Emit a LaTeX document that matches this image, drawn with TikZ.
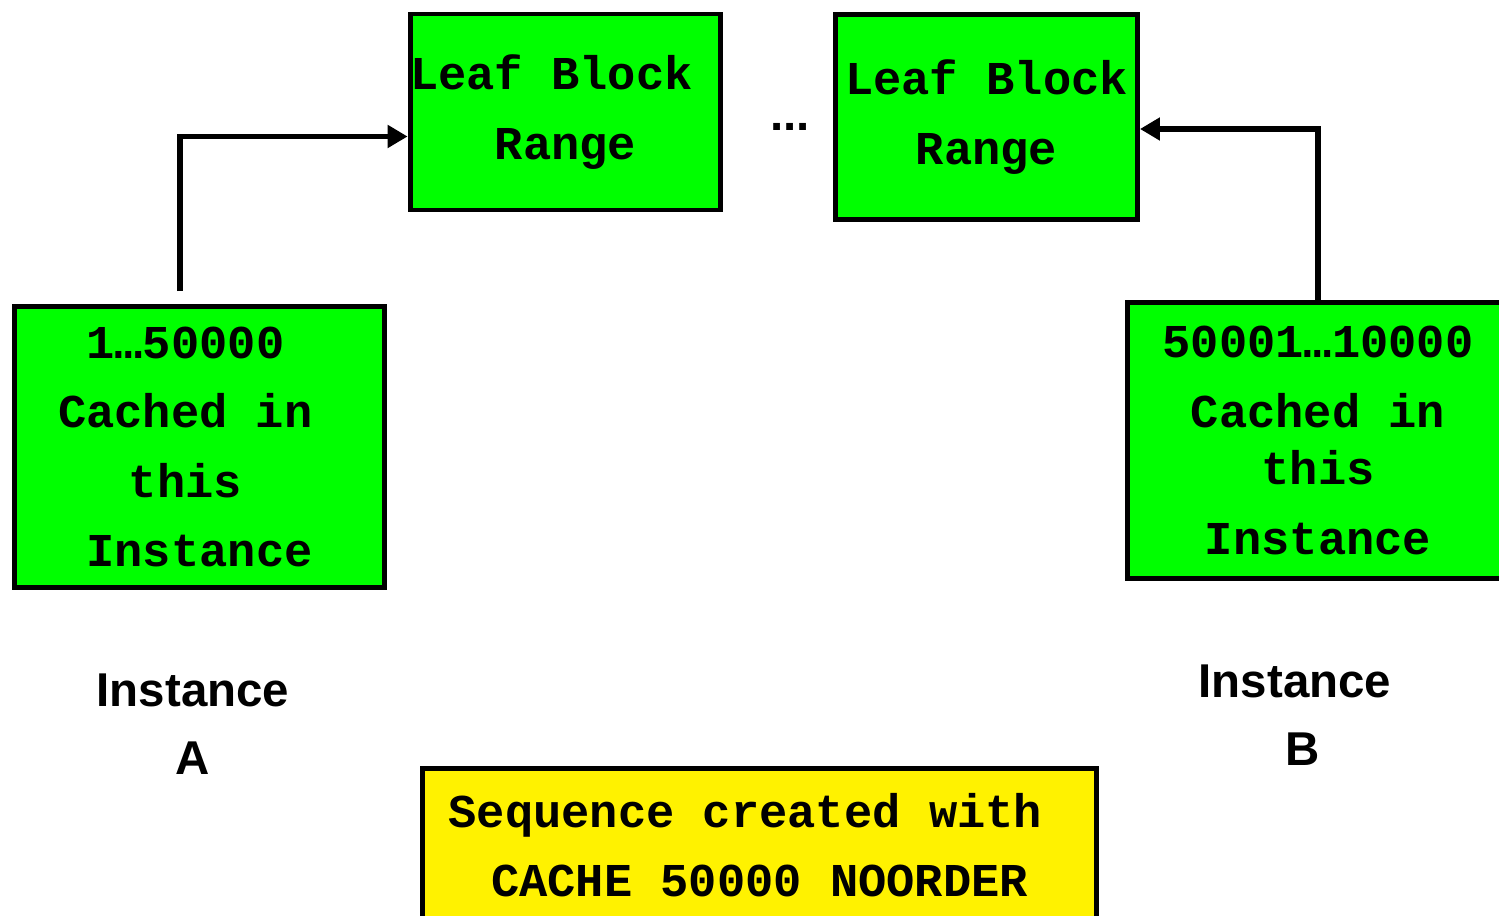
\documentclass[tikz,border=0pt]{standalone}
\usepackage{fontspec}
\setmainfont{Liberation Sans}
\setsansfont{Liberation Sans}
\setmonofont{Liberation Mono}
\usetikzlibrary{arrows.meta}
\tikzset{cacheBox/.style={draw=black, line width=1.4pt, fill=green, inner sep=0pt, align=center,
    font=\ttfamily\bfseries\fontsize{13.4}{19.7}\selectfont}}
\tikzset{noteBox/.style={cacheBox, fill=yellow}}
\tikzset{instLabel/.style={align=center, font=\sffamily\bfseries\fontsize{13.5}{19.3}\selectfont}}
\tikzset{link/.style={line width=1.5pt, -{Triangle[length=2.0mm,width=2.2mm]}}}
\newcommand{\trail}[1]{\mbox{#1\hspace{0.6em}}}

\begin{document}
\begin{tikzpicture}
\useasboundingbox (0,0) rectangle (14.99,-9.16);
% leaf block ranges
\node[cacheBox, minimum width=3.04cm, minimum height=1.96cm] (leafA) at (5.655,-1.12)
  {\trail{Leaf Block}\\Range};
\node[font=\sffamily\bfseries\fontsize{13.5}{16}\selectfont] (dots) at (7.9,-1.27) {...};
\node[cacheBox, minimum width=3.02cm, minimum height=2.05cm] (leafB) at (9.865,-1.17)
  {Leaf Block\\Range};
%
% instance caches
\node[cacheBox, minimum width=3.70cm, minimum height=2.81cm] (cacheA) at (1.995,-4.47)
  {\trail{1…50000}\\\trail{Cached in}\\\trail{this}\\Instance};
\node[cacheBox, minimum width=3.81cm, minimum height=2.76cm] (cacheB) at (13.18,-4.405)
  {50001…10000\\Cached in\\[-3.3pt]this\\Instance};
\node[instLabel] (instA) at (1.93,-7.24) {Instance\\A};
\node[instLabel] (instB) at (12.95,-7.15) {Instance\\\mbox{\hspace{0.3em}B}};
%
% sequence definition
\node[noteBox, minimum width=6.74cm, minimum height=1.54cm] (seqNote) at (7.595,-8.455)
  {\trail{Sequence created with}\\CACHE 50000 NOORDER};
%
% links
\draw[link] ([xshift=-0.195cm,yshift=0.13cm]cacheA.north) |- ([yshift=-0.245cm]leafA.west);
\draw[link] (cacheB.north) |- ([yshift=-0.12cm]leafB.east);
\end{tikzpicture}
\end{document}
